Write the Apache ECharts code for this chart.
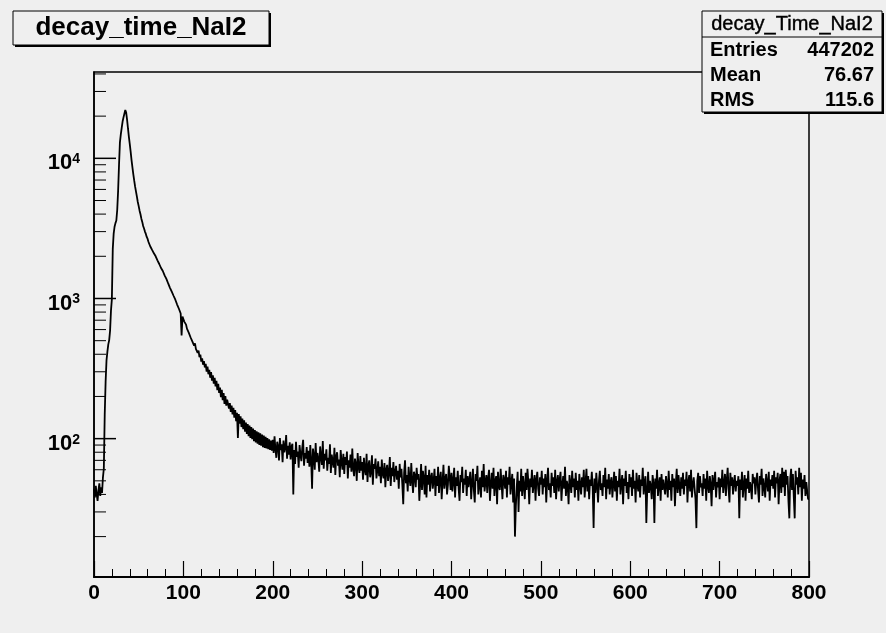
<!DOCTYPE html>
<html>
<head>
<meta charset="utf-8">
<script src="https://cdn.jsdelivr.net/npm/echarts@6.0.0/dist/echarts.min.js"></script>
<style>
html,body{margin:0;padding:0;background:#efefef;}
#chart{width:886px;height:633px;}
</style>
</head>
<body>
<div id="chart"></div>
<script>
// Histogram bin contents, 1 unit per bin, bins 0..799
const riseCounts = [44, 38, 46, 40, 36, 43, 48, 39, 45, 41, 53, 61, 148, 255, 362, 418, 470, 505, 590, 820,
  990, 2250, 2900, 3250, 3450, 3600, 4300, 5900, 9000, 13000, 14800, 16500, 18300, 19600, 20800, 22100];
const peakCounts = [21200, 18900, 16400, 14300, 12700, 11150, 9700, 8620, 7680, 6930, 6280, 5790, 5330, 4880,
  4560, 4230, 3990, 3710, 3520, 3290, 3160, 3000, 2890, 2750, 2660, 2530, 2450, 2350, 2300, 2220, 2180, 2100, 2070, 2000];
const decayCounts = [
  1990, 1872, 1855, 1762, 1752, 1650, 1645, 1570, 1550, 1462, 1455, 1380, 1365, 1280, 1275, 1192, 1190, 1118, 1112, 1046,
  1040, 980, 972, 905, 900, 845, 840, 782, 545, 742,
  738, 684, 662, 651, 609, 612, 571, 566, 529, 537, 494, 501, 461, 478, 437, 445, 409, 424, 381, 397,
  355, 374, 337, 358, 322, 341, 301, 326, 288, 309, 272, 298, 259, 283, 247, 271, 236, 259, 222, 246,
  212, 231, 198, 223, 188, 211, 177, 201, 172, 190,
  188, 164, 179, 155, 172, 149, 166, 141, 160, 133, 153, 101, 150, 128, 144, 121, 139, 117, 135, 112,
  130, 108, 127, 104, 124, 101, 121, 99, 118, 96, 115, 94, 113, 92, 111, 90, 109, 89, 107, 87,
  105, 86, 103, 85, 101, 84, 99, 83, 97, 82];
const tailCountsA = [
  98, 79, 104, 84, 73, 95, 88, 70, 101, 83, 91, 68, 97, 80, 86, 106, 72, 89, 77, 94,
  71, 88, 92, 40, 83, 66, 95, 74, 81, 62, 90, 77, 69, 86, 98, 64, 79, 72, 87, 67,
  82, 63, 90, 70, 44, 85, 76, 60, 93, 68, 79, 71, 58, 88, 74, 65, 96, 61, 78, 70,
  84, 59, 73, 66, 91, 57, 77, 69, 62, 86, 55, 75, 80, 64, 71, 53, 83, 68, 60, 78,
  56, 74, 65, 81, 52, 70, 62, 77, 58, 85, 61, 54, 72, 66, 50, 79, 63, 57, 75, 59,
  68, 51, 73, 60, 55, 78, 49, 64, 70, 53, 58, 76, 47, 66, 61, 72, 52, 59, 69, 54,
  63, 48, 71, 56, 52, 67, 45, 60, 65, 50, 57, 74, 46, 62, 54, 68, 49, 58, 64, 51,
  59, 44, 66, 53, 61, 47, 34, 57, 70, 48, 55, 42, 63, 52, 46, 67, 50, 41, 58, 54,
  45, 62, 51, 56, 36, 48, 66, 43, 59, 52, 40, 64, 38, 55, 47, 60, 42, 53, 57, 44,
  50, 61, 39, 54, 46, 63, 41, 52, 58, 37, 49, 65, 44, 51, 56, 40, 47, 64, 53, 43,
  57, 42, 50, 62, 38, 53, 46, 59, 44, 36, 55, 49, 63, 41, 52, 47, 60, 39, 54, 45,
  51, 58, 37, 48, 61, 43, 35, 56, 50, 64, 40, 47, 53, 38, 59, 45, 66, 42, 49, 55,
  41, 52, 60, 36, 47, 57, 44, 62, 39, 50, 54, 34, 58, 46, 43, 61, 48, 37, 55, 51,
  44, 59, 38, 53, 47, 63, 40, 49, 56, 35, 52, 20, 33, 45, 58, 30, 50, 42, 61, 39,
  54, 46, 37, 57, 43, 61, 49, 34, 52, 45, 60, 41, 48, 55, 36, 51, 58, 44, 39, 53];
const tailCountsB = [
  47, 59, 40, 52, 45, 56, 35, 50, 62, 43, 48, 38, 57, 46, 53, 41, 60, 37, 49, 55,
  42, 51, 58, 36, 47, 54, 44, 63, 39, 50, 46, 34, 55, 48, 41, 59, 45, 52, 38, 57,
  43, 50, 36, 56, 47, 40, 53, 45, 60, 38, 49, 61, 42, 54, 37, 51, 46, 58, 44, 23,
  52, 41, 57, 46, 35, 50, 59, 43, 48, 39, 55, 45, 62, 37, 51, 44, 56, 40, 49, 53,
  38, 47, 58, 42, 54, 36, 50, 45, 61, 40, 48, 55, 34, 52, 46, 59, 41, 49, 37, 56,
  45, 53, 39, 60, 44, 50, 35, 57, 47, 42, 55, 38, 51, 46, 62, 40, 49, 54, 25, 43,
  58, 41, 50, 46, 37, 55, 48, 25, 52, 44, 60, 39, 47, 53, 36, 56, 43, 51, 45, 40,
  54, 47, 38, 59, 43, 50, 36, 56, 45, 52, 33, 48, 61, 41, 55, 46, 39, 53, 44, 57,
  40, 51, 46, 58, 35, 49, 55, 42, 60, 38, 47, 53, 44, 37, 23, 50, 57, 41, 54, 45,
  48, 39, 56, 44, 52, 36, 59, 46, 41, 54, 47, 33, 55, 43, 50, 58, 38, 49, 45, 53,
  37, 52, 45, 60, 41, 48, 56, 39, 51, 62, 44, 35, 57, 46, 53, 40, 49, 55, 42, 50,
  46, 54, 27, 51, 43, 58, 38, 47, 55, 36, 52, 44, 59, 41, 49, 45, 37, 56, 48, 53,
  40, 50, 57, 43, 35, 54, 47, 61, 39, 52, 45, 38, 56, 49, 42, 58, 36, 51, 46, 55,
  44, 59, 38, 53, 48, 57, 34, 50, 56, 41, 62, 45, 58, 39, 60, 47, 54, 36, 27, 52,
  61, 43, 56, 38, 27, 59, 47, 53, 40, 62, 45, 57, 36, 51, 44, 55, 39, 49, 42, 37];

const xMin = 0, xMax = 800, xStep = 100;
const yMin = 10.3, yMax = 41300;
const yMajorTicks = [100, 1000, 10000];
const yMinorTicks = [20, 30, 40, 50, 60, 70, 80, 90, 200, 300, 400, 500, 600, 700, 800, 900,
  2000, 3000, 4000, 5000, 6000, 7000, 8000, 9000, 20000, 30000, 40000];
const titleText = 'decay_time_NaI2';
const statsTitle = 'decay_Time_NaI2';
const statsRows = [['Entries', '447202'], ['Mean', '76.67'], ['RMS', '115.6']];

const counts = riseCounts.concat(peakCounts, decayCounts, tailCountsA, tailCountsB);
const histData = counts.map((c, i) => [i, c]);
histData.push([counts.length, counts[counts.length - 1]]);

const FONT = '"Liberation Sans", Arial, Helvetica, sans-serif';
const BG = '#efefef';

function tickSeries(values, len, width) {
  return {
    type: 'custom',
    coordinateSystem: 'cartesian2d',
    silent: true,
    clip: false,
    z: 5,
    data: values.map(v => [xMin, v]),
    renderItem: function (params, api) {
      const p = api.coord([api.value(0), api.value(1)]);
      return {
        type: 'line',
        shape: { x1: p[0], y1: p[1], x2: p[0] + len, y2: p[1] },
        style: { stroke: '#000', lineWidth: width }
      };
    }
  };
}

const statsGraphics = [];
statsGraphics.push({ type: 'rect', z: 100, shape: { x: 704, y: 13, width: 180, height: 101 }, style: { fill: '#000' } });
statsGraphics.push({ type: 'rect', z: 101, shape: { x: 702, y: 11, width: 180, height: 101 }, style: { fill: BG, stroke: '#000', lineWidth: 1 } });
statsGraphics.push({ type: 'line', z: 102, shape: { x1: 702, y1: 37, x2: 882, y2: 37 }, style: { stroke: '#000', lineWidth: 1 } });
statsGraphics.push({ type: 'text', z: 103, style: { text: statsTitle, x: 792, y: 24, align: 'center', verticalAlign: 'middle', font: 'normal 20px ' + FONT, fill: '#000', stroke: '#000', lineWidth: 0.4 } });
statsRows.forEach((r, k) => {
  const y = 50 + k * 25;
  statsGraphics.push({ type: 'text', z: 103, style: { text: r[0], x: 710, y: y, align: 'left', verticalAlign: 'middle', font: 'bold 20px ' + FONT, fill: '#000' } });
  statsGraphics.push({ type: 'text', z: 103, style: { text: r[1], x: 874, y: y, align: 'right', verticalAlign: 'middle', font: 'bold 20px ' + FONT, fill: '#000' } });
});

const option = {
  backgroundColor: BG,
  animation: false,
  grid: { left: 94, top: 72, width: 715, height: 505, show: true, borderColor: '#000', borderWidth: 1.5, backgroundColor: 'transparent' },
  xAxis: {
    type: 'value', min: xMin, max: xMax, interval: xStep,
    axisLine: { show: true, lineStyle: { color: '#000', width: 2 } },
    axisTick: { show: true, inside: true, length: 16, lineStyle: { color: '#000', width: 1.2 } },
    minorTick: { show: true, splitNumber: 5, length: 8, lineStyle: { color: '#000', width: 1 } },
    splitLine: { show: false },
    axisLabel: { margin: 6, color: '#000', fontSize: 21, fontWeight: 'bold', fontFamily: FONT }
  },
  yAxis: {
    type: 'log', logBase: 10, min: yMin, max: yMax,
    axisLine: { show: true, lineStyle: { color: '#000', width: 1.5 } },
    axisTick: { show: false },
    splitLine: { show: false },
    axisLabel: {
      margin: 14,
      padding: [10, 0, 0, 0],
      formatter: function (v) {
        const e = Math.log10(v);
        if (Math.abs(e - Math.round(e)) < 1e-6) return '{b|10}{s|' + Math.round(e) + '}';
        return '';
      },
      rich: {
        b: { fontSize: 22, fontWeight: 'bold', fontFamily: FONT, color: '#000' },
        s: { fontSize: 14, fontWeight: 'bold', fontFamily: FONT, color: '#000', verticalAlign: 'top' }
      }
    }
  },
  series: [
    {
      type: 'line', step: 'end', data: histData, showSymbol: false, symbol: 'none',
      sampling: null, z: 3,
      lineStyle: { color: '#000', width: 1.8 }
    },
    tickSeries(yMajorTicks, 22, 1.5),
    tickSeries(yMinorTicks, 12, 1)
  ],
  graphic: [
    { type: 'rect', z: 100, shape: { x: 15, y: 13, width: 256, height: 34 }, style: { fill: '#000' } },
    { type: 'rect', z: 101, shape: { x: 13, y: 11, width: 256, height: 34 }, style: { fill: BG, stroke: '#000', lineWidth: 1 } },
    { type: 'text', z: 102, style: { text: titleText, x: 141, y: 28, align: 'center', verticalAlign: 'middle', font: 'bold 26px ' + FONT, fill: '#000' } }
  ].concat(statsGraphics)
};

const chart = echarts.init(document.getElementById('chart'), null, { renderer: 'canvas' });
chart.setOption(option);
</script>
</body>
</html>
